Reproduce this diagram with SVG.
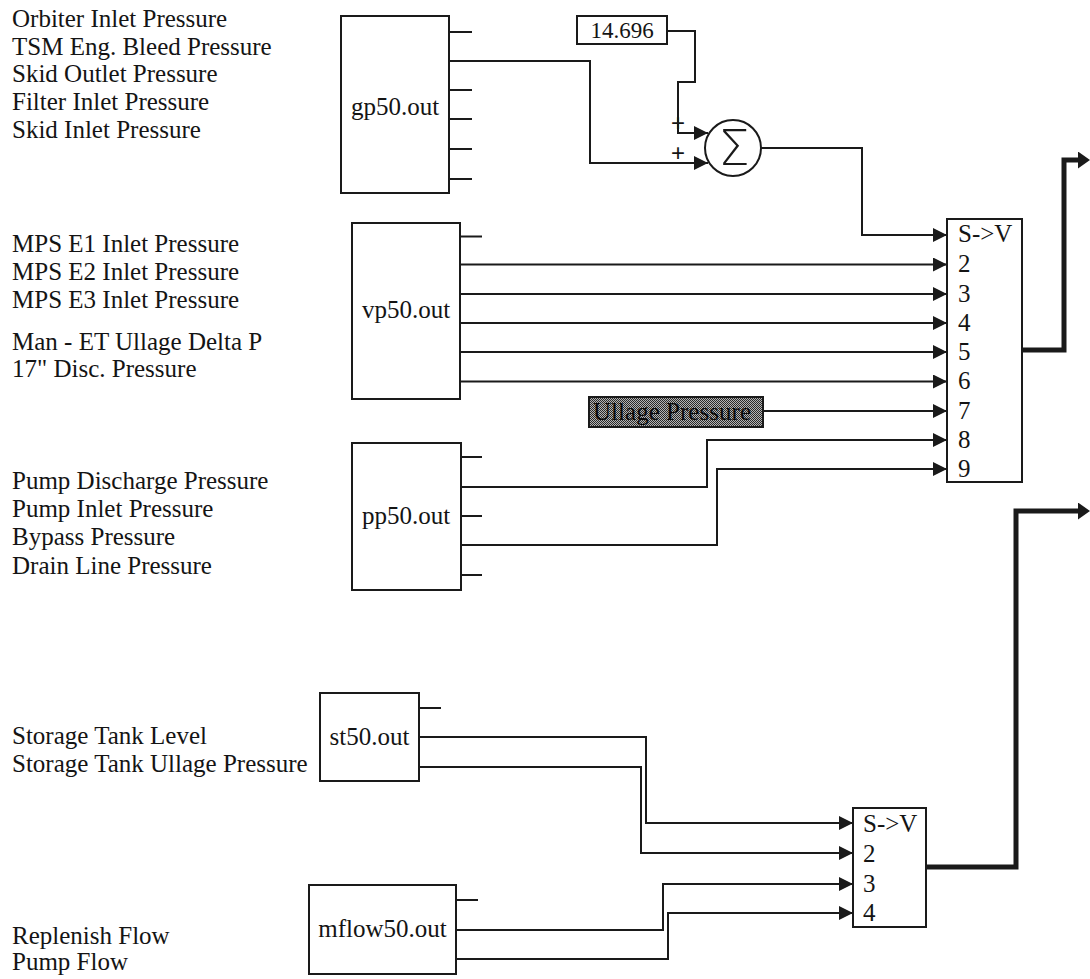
<svg xmlns="http://www.w3.org/2000/svg" width="1090" height="979" viewBox="0 0 1090 979">
<style>
.t{font-family:"Liberation Serif","Times New Roman",serif;font-size:25px;fill:#141414}
.m{text-anchor:middle}
.blk{fill:#fff;stroke:#1a1a1a;stroke-width:2}
.w{fill:none;stroke:#1a1a1a;stroke-width:2}
.th{fill:none;stroke:#1a1a1a;stroke-width:5}
.pl{font-family:"Liberation Sans",Arial,sans-serif;font-size:24px;fill:#141414;text-anchor:middle}
</style>
<defs>
<marker id="a" markerUnits="userSpaceOnUse" markerWidth="14" markerHeight="14" refX="14" refY="7" orient="auto"><path d="M0,0 L14,7 L0,14 z" fill="#1a1a1a"/></marker>
<marker id="b" markerUnits="userSpaceOnUse" markerWidth="12" markerHeight="17" refX="0" refY="8.5" orient="auto"><path d="M0,0 L12,8.5 L0,17 z" fill="#1a1a1a"/></marker>
<pattern id="dith" width="2" height="2" patternUnits="userSpaceOnUse"><rect width="2" height="2" fill="#b4b4b4"/><rect width="1" height="1" fill="#2a2a2a"/><rect x="1" y="1" width="1" height="1" fill="#2a2a2a"/></pattern>
</defs>
<rect width="1090" height="979" fill="#fff"/>

<g id="labels" class="t">
<text x="12" y="27">Orbiter Inlet Pressure</text>
<text x="12" y="54.5">TSM Eng. Bleed Pressure</text>
<text x="12" y="82">Skid Outlet Pressure</text>
<text x="12" y="110">Filter Inlet Pressure</text>
<text x="12" y="137.5">Skid Inlet Pressure</text>
<text x="12" y="252">MPS E1 Inlet Pressure</text>
<text x="12" y="279.5">MPS E2 Inlet Pressure</text>
<text x="12" y="307.5">MPS E3 Inlet Pressure</text>
<text x="12" y="349.5">Man - ET Ullage Delta P</text>
<text x="12" y="377">17" Disc. Pressure</text>
<text x="12" y="488.5">Pump Discharge Pressure</text>
<text x="12" y="517">Pump Inlet Pressure</text>
<text x="12" y="545">Bypass Pressure</text>
<text x="12" y="573.5">Drain Line Pressure</text>
<text x="12" y="744">Storage Tank Level</text>
<text x="12" y="772">Storage Tank Ullage Pressure</text>
<text x="12" y="943.5">Replenish Flow</text>
<text x="12" y="970">Pump Flow</text>
</g>

<g id="gp50">
<rect class="blk" x="341" y="16" width="108" height="177"/>
<path class="w" d="M449,32 H472 M449,90 H472 M449,119 H472 M449,149 H472 M449,179 H472"/>
<text class="t m" x="395" y="115">gp50.out</text>
</g>

<g id="const">
<rect class="blk" x="577" y="16" width="90" height="28"/>
<text class="t m" x="622" y="38" style="font-size:23px">14.696</text>
</g>

<g id="sum">
<circle class="blk" cx="733" cy="148" r="28"/>
<text x="734" y="165" text-anchor="middle" style="font-family:'DejaVu Sans',sans-serif;font-weight:200;font-size:50px;fill:#1a1a1a">Σ</text>
<text class="pl" x="678" y="131">+</text>
<text class="pl" x="678" y="161">+</text>
</g>

<g id="vp50">
<rect class="blk" x="352" y="223" width="108" height="176"/>
<path class="w" d="M460,236.5 H482"/>
<text class="t m" x="406" y="318">vp50.out</text>
</g>

<g id="ullage">
<rect x="589" y="397" width="174" height="30" fill="url(#dith)" stroke="#1a1a1a" stroke-width="2"/>
<text class="t" x="593" y="420" textLength="158" style="fill:#0a0a0a">Ullage Pressure</text>
</g>

<g id="pp50">
<rect class="blk" x="352" y="443" width="109" height="147"/>
<path class="w" d="M461,457 H482 M461,516 H482 M461,575 H482"/>
<text class="t m" x="406" y="524">pp50.out</text>
</g>

<g id="st50">
<rect class="blk" x="320" y="693" width="99" height="88"/>
<path class="w" d="M419,708 H441"/>
<text class="t m" x="369.5" y="745">st50.out</text>
</g>

<g id="mflow50">
<rect class="blk" x="309" y="885" width="147" height="89"/>
<path class="w" d="M456,900 H478"/>
<text class="t m" x="382.5" y="937">mflow50.out</text>
</g>

<g id="mux1">
<rect class="blk" x="947" y="219" width="75" height="263"/>
<g class="t">
<text x="958" y="242">S-&gt;V</text>
<text x="958" y="272">2</text>
<text x="958" y="301.5">3</text>
<text x="958" y="330.5">4</text>
<text x="958" y="359.5">5</text>
<text x="958" y="389">6</text>
<text x="958" y="418.5">7</text>
<text x="958" y="447.5">8</text>
<text x="958" y="476.5">9</text>
</g>
</g>

<g id="mux2">
<rect class="blk" x="853" y="808" width="73" height="119"/>
<g class="t">
<text x="863" y="832">S-&gt;V</text>
<text x="863" y="862">2</text>
<text x="863" y="892">3</text>
<text x="863" y="921">4</text>
</g>
</g>

<g id="connectors">
<path class="w" marker-end="url(#a)" d="M449,61 H590 V163 H708"/>
<path class="w" marker-end="url(#a)" d="M667,31 H695 V82 H678 V133 H708"/>
<path class="w" marker-end="url(#a)" d="M761,148 H862 V235 H947"/>
<path class="w" marker-end="url(#a)" d="M460,264.5 H947"/>
<path class="w" marker-end="url(#a)" d="M460,294 H947"/>
<path class="w" marker-end="url(#a)" d="M460,323 H947"/>
<path class="w" marker-end="url(#a)" d="M460,352 H947"/>
<path class="w" marker-end="url(#a)" d="M460,381.5 H947"/>
<path class="w" marker-end="url(#a)" d="M763,411 H947"/>
<path class="w" marker-end="url(#a)" d="M461,487 H707 V440 H947"/>
<path class="w" marker-end="url(#a)" d="M461,545 H717 V469 H947"/>
<path class="w" marker-end="url(#a)" d="M419,737 H646 V823 H853"/>
<path class="w" marker-end="url(#a)" d="M419,767 H641 V853 H853"/>
<path class="w" marker-end="url(#a)" d="M456,930 H663 V884 H853"/>
<path class="w" marker-end="url(#a)" d="M456,959 H668 V913 H853"/>
<path class="th" marker-end="url(#b)" d="M1022,350 H1064 V160 H1078"/>
<path class="th" marker-end="url(#b)" d="M926,867 H1016 V511 H1078"/>
</g>
</svg>
